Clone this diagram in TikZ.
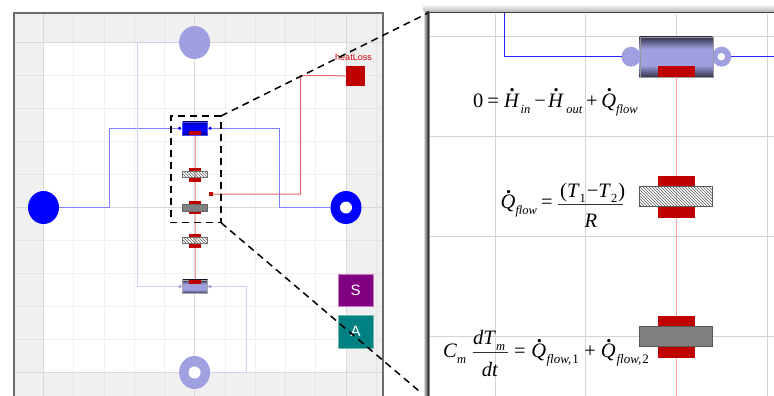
\documentclass[tikz,border=0pt]{standalone}
\usepackage{fontspec}
\setmainfont{Liberation Serif}
\setsansfont{Liberation Sans}
\usetikzlibrary{patterns,shapes.geometric}
\definecolor{pipec}{HTML}{A0A0E0}
\definecolor{pipedark}{HTML}{30304A}
\definecolor{redc}{HTML}{C00000}
\definecolor{redl}{HTML}{E06A6A}
\definecolor{pinkl}{HTML}{F2A0A0}
\definecolor{bluel}{HTML}{8080FF}
\definecolor{palel}{HTML}{CFCFF5}
\definecolor{bandc}{HTML}{F0F0F0}
\definecolor{purplec}{HTML}{800080}
\definecolor{tealc}{HTML}{008080}
\pgfdeclareverticalshading{pipeshade}{100bp}{color(0bp)=(pipedark); color(25bp)=(pipedark); color(40bp)=(pipec); color(60bp)=(pipec); color(75bp)=(pipedark); color(100bp)=(pipedark)}
\pgfdeclareverticalshading{pipeblue}{100bp}{color(0bp)=(blue!45!black); color(25bp)=(blue!45!black); color(38bp)=(blue); color(62bp)=(blue); color(75bp)=(blue!45!black); color(100bp)=(blue!45!black)}
\newcommand{\dotted}[1]{\makebox[0pt][l]{\hspace{5.5pt}\raisebox{15.5pt}{\textbf{.}}}\textit{#1}}
\newcommand{\low}[1]{\raisebox{-6pt}{\fontsize{12.5}{12.5}\selectfont\itshape #1}}
\newcommand{\lowb}[1]{\raisebox{-6pt}{\fontsize{13}{13}\selectfont\itshape #1}}
\newcommand{\lowr}[1]{\raisebox{-5pt}{\fontsize{12.5}{12.5}\selectfont #1}}
\tikzset{
  redbar/.style={draw=none,fill=redc,inner sep=0pt,outer sep=0pt},
  minor/.style={line width=.7pt,draw=#1},
  dotport/.style={circle,inner sep=0pt,minimum size=3.6pt},
  zoomline/.style={dash pattern=on 7pt off 5pt,line width=1.5pt,black},
  eqn/.style={font=\fontsize{20.5}{22}\selectfont,inner sep=0pt,anchor=base west},
  eqc/.style={font=\fontsize{20.5}{22}\selectfont,inner sep=0pt,anchor=base},
  fracbar/.style={line width=.8pt,black!80},
  port/.style={ellipse,inner sep=0pt,outer sep=0pt},
  markbox/.style={inner sep=0pt,outer sep=0pt,minimum width=35.5pt,minimum height=32.5pt,text=white,font=\sffamily\fontsize{15}{15}\selectfont},
}
\begin{document}
\begin{tikzpicture}[x=1pt,y=-1pt]
\useasboundingbox (0,0) rectangle (774,396);
\clip (0,0) rectangle (774,396);
\fill[white] (0,0) rectangle (774,396);
% left panel
\fill[bandc] (14,13) rectangle (383,396);
\foreach \x in {73.7,104,134,164.5,225,255.3,285.5,315.8,376.3}{\draw[minor=black!11] (\x,13)--(\x,396);}
\foreach \y in {75,108,141,174,240.5,273.5,306.5,339.5}{\draw[minor=black!11] (14,\y)--(383,\y);}
\fill[white] (43.5,42) rectangle (346,372);
\foreach \x in {73.7,104,134,164.5,225,255.3,285.5,315.8}{\draw[minor=black!6] (\x,42)--(\x,372);}
\foreach \y in {75,108,141,174,240.5,273.5,306.5,339.5}{\draw[minor=black!6] (43.5,\y)--(346,\y);}
\draw[minor=black!15] (194.6,13)--(194.6,396) (14,207.5)--(383,207.5);
\draw[line width=.8pt,black!15] (43.5,13)--(43.5,396) (346,13)--(346,396) (14,42)--(383,42) (14,372)--(383,372);
\draw[line width=1.2pt,black!58] (14,396)--(14,13)--(383,13)--(383,396);
% left panel nodes
\node[port,fill=pipec,minimum width=31pt,minimum height=33pt] (topc) at (194.6,42.5) {};
\node[port,fill=blue,minimum width=31pt,minimum height=33pt] (leftc) at (43.5,207.5) {};
\node[port,fill=blue,minimum width=31pt,minimum height=33pt] (rightc) at (346,207.5) {};
\node[port,fill=white,minimum width=12pt,minimum height=12pt] at (346,207.5) {};
\node[port,fill=pipec,minimum width=31pt,minimum height=33pt] (botc) at (194.6,372.5) {};
\node[port,fill=white,minimum width=12pt,minimum height=12pt] at (194.6,372.5) {};
\node[redbar,minimum width=18.7pt,minimum height=20.3pt] (heat) at (355.7,75.8) {};
\node[text=red!85!black,font=\sffamily\fontsize{9}{9}\selectfont,inner sep=0pt] (heatlabel) at (353.5,57.7) {heatLoss};
% connectors left
\coordinate (k1) at (109.7,207.5);
\coordinate (k2) at (109.7,128.3);
\coordinate (k3) at (279.7,128.3);
\coordinate (k4) at (279.7,207.5);
\coordinate (k5) at (137.3,42.5);
\coordinate (k6) at (137.3,286.5);
\coordinate (k7) at (246.3,286.5);
\coordinate (k8) at (246.3,372.5);
\coordinate (k9) at (300.7,75.6);
\coordinate (k10) at (300.7,194.2);
\coordinate (v1lc) at (179.7,128.3);
\coordinate (v1rc) at (210,128.3);
\coordinate (v2lc) at (180,286.5);
\coordinate (v2rc) at (210,286.5);
\coordinate (juncc) at (210.8,194.2);
\coordinate (sp1) at (195,134);
\coordinate (sp2) at (195,280);
\draw[line width=.9pt,bluel] (leftc.east)--(k1)--(k2)--(v1lc);
\draw[line width=.9pt,bluel] (v1rc)--(k3)--(k4)--(rightc.west);
\draw[line width=.9pt,palel] (topc.west)--(k5)--(k6)--(v2lc);
\draw[line width=.9pt,palel] (v2rc)--(k7)--(k8)--(botc.east);
\draw[line width=1pt,redl] (heat.west)--(k9)--(k10)--(juncc);
\draw[line width=.8pt,pinkl] (sp1)--(sp2);
\node[inner sep=0pt,outer sep=0pt,minimum width=25pt,minimum height=13pt,shading=pipeblue,draw=blue!70] (v1) at (195,128.2) {};
\node[inner sep=0pt,outer sep=0pt,minimum width=25pt,minimum height=13.7pt,shading=pipeshade,draw=black!35,line width=.4pt] (v2) at (195,286.8) {};
\node[dotport,fill=blue] (v1l) at (v1lc) {};
\node[dotport,fill=blue] (v1r) at (v1rc) {};
\node[dotport,fill=pipec] (v2l) at (v2lc) {};
\node[dotport,fill=pipec] (v2r) at (v2rc) {};
\node[redbar,minimum width=12.3pt,minimum height=3.7pt] (v1b) at (195,132.8) {};
\node[redbar,minimum width=12.3pt,minimum height=3.9pt] (v2t) at (195,281.9) {};
\node[redbar,minimum width=12.3pt,minimum height=3.7pt] (r1t) at (195,169.5) {};
\node[redbar,minimum width=12.3pt,minimum height=4.3pt] (r1b) at (195,179.5) {};
\node[inner sep=0pt,outer sep=0pt,minimum width=25pt,minimum height=6pt,draw=black!55,line width=.4pt,pattern=north west lines,pattern color=black!60] (r1) at (195,174.3) {};
\node[redbar,minimum width=12.3pt,minimum height=3.4pt] (ct) at (195,202.7) {};
\node[redbar,minimum width=12.3pt,minimum height=3.4pt] (cb) at (195,212.6) {};
\node[inner sep=0pt,outer sep=0pt,minimum width=25pt,minimum height=6.7pt,fill=black!50,draw=black!60,line width=.4pt] (c1) at (195,207.6) {};
\node[redbar,minimum width=12.3pt,minimum height=3.7pt] (r2t) at (195,235.5) {};
\node[redbar,minimum width=12.3pt,minimum height=4.3pt] (r2b) at (195,245.8) {};
\node[inner sep=0pt,outer sep=0pt,minimum width=25pt,minimum height=6pt,draw=black!55,line width=.4pt,pattern=north west lines,pattern color=black!60] (r2) at (195,240.5) {};
\node[redbar,minimum size=4pt] (junc) at (juncc) {};
\node[markbox,fill=purplec,draw={rgb,255:red,200;green,120;blue,200},line width=.5pt] (S) at (355.5,290) {S};
\node[markbox,fill=tealc,draw={rgb,255:red,110;green,190;blue,170},line width=.5pt] (A) at (355.5,331.5) {A};
% right panel
\shade[top color=white,bottom color=black!32] (423,4) rectangle (774,13);
\fill[white] (429,13) rectangle (774,396);
\shade[left color=white,right color=black!80] (423,12) rectangle (428,396);
\shade[left color=black!80,right color=black!10] (428,12) rectangle (430,396);
\foreach \x in {495.5,585.7,676,767}{\draw[minor=black!17] (\x,14)--(\x,396);}
\foreach \y in {36,136,236,336}{\draw[minor=black!17] (430,\y)--(774,\y);}
\draw[line width=1pt,black!75] (426,13)--(774,13);
% right panel nodes
\node[port,fill=pipec,minimum width=19pt,minimum height=20pt] (pl) at (631,56.7) {};
\node[port,fill=pipec,minimum width=19pt,minimum height=20pt] (pr) at (721.7,56.7) {};
\node[port,fill=white,minimum width=7.5pt,minimum height=7.5pt] at (721.3,56.7) {};
\node[inner sep=0pt,outer sep=0pt,minimum width=73pt,minimum height=40.5pt,shading=pipeshade,draw=black!40,line width=.4pt] (bigpipe) at (676.2,57) {};
\node[redbar,minimum width=37pt,minimum height=11pt] (bpb) at (676.2,71.7) {};
\node[redbar,minimum width=37pt,minimum height=10.4pt] (brt) at (676.2,181.2) {};
\node[inner sep=0pt,outer sep=0pt,minimum width=73pt,minimum height=20.4pt,draw=black!65,line width=.5pt,pattern=north west lines,pattern color=black!65] (bigr) at (676.2,196.4) {};
\node[redbar,minimum width=37pt,minimum height=11.4pt] (brb) at (676.2,212.2) {};
\node[redbar,minimum width=37pt,minimum height=10.3pt] (bct) at (676.2,321.2) {};
\node[inner sep=0pt,outer sep=0pt,minimum width=73pt,minimum height=20.4pt,fill=black!50,draw=black!65,line width=.5pt] (bigc) at (676.2,336.5) {};
\node[redbar,minimum width=37pt,minimum height=11pt] (bcb) at (676.2,352.2) {};
\coordinate (t1) at (504,13);
\coordinate (t2) at (504,56.7);
\coordinate (t3) at (774,56.7);
\coordinate (t4) at (676.2,396);
\draw[line width=.9pt,blue!85!white] (t1)--(t2)--(pl.west);
\draw[line width=.9pt,blue!85!white] (pr.east)--(t3);
\draw[line width=.7pt,pinkl] (bpb.south)--(brt.north);
\draw[line width=.7pt,pinkl] (brb.south)--(bct.north);
\draw[line width=.7pt,pinkl] (bcb.south)--(t4);
% equations
\node[eqn] (eq1) at (473,107.2) {0\kern4pt=\kern5pt\dotted{H}\kern1pt\low{in}\kern4pt−\kern2pt\dotted{H}\kern2.5pt\low{out}\kern4pt+\kern3.5pt\dotted{Q}\low{flow}};
\node[eqn] (eq2a) at (500.5,208.6) {\dotted{Q}\low{flow}\kern4pt=};
\node[eqn] (eq2n) at (560,197.6) {(\textit{T}\lowr{1}\kern1pt−\textit{T}\lowr{2}\kern1pt)};
\node[eqc] (eq2d) at (591,227.7) {\textit{R}};
\coordinate (b2l) at (558,204.7);
\coordinate (b2r) at (623.3,204.7);
\draw[fracbar] (b2l)--(b2r);
\node[eqn] (eq3a) at (443,357.7) {\textit{C}\low{m}};
\node[eqn] (eq3n) at (473,344) {\textit{dT}\low{m}};
\node[eqc] (eq3d) at (490,376) {\textit{dt}};
\coordinate (b3l) at (472.7,352.7);
\coordinate (b3r) at (508.3,352.7);
\draw[fracbar] (b3l)--(b3r);
\node[eqn] (eq3b) at (514,357.7) {=\kern5.5pt\dotted{Q}\kern.5pt\lowb{flow,\kern1pt\upshape 1}\kern5.5pt+\kern5pt\dotted{Q}\kern1pt\lowb{flow,\kern1pt\upshape 2}};
% zoom frame
\coordinate (zA) at (171,116);
\coordinate (zB) at (221,116);
\coordinate (zC) at (221,222.7);
\coordinate (zD) at (171,222.7);
\coordinate (zE) at (428,13);
\coordinate (zF) at (419,391);
\draw[zoomline] (zB)--(zA)--(zD)--(zC)--(zB);
\draw[zoomline] (zB)--(zE);
\draw[zoomline] (zC)--(zF);
\end{tikzpicture}
\end{document}
